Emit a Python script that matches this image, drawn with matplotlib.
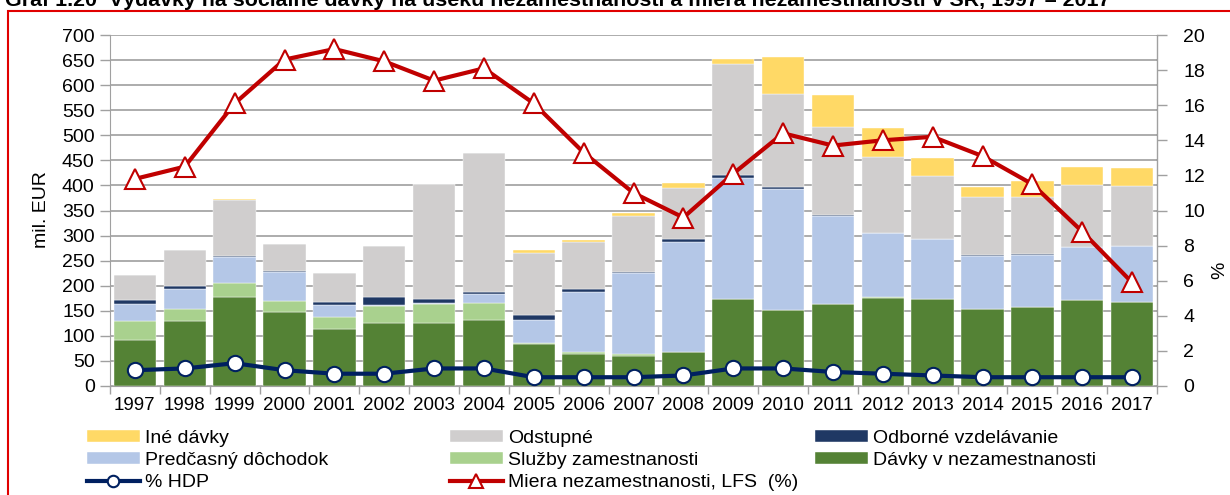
import numpy as np
import matplotlib
matplotlib.use('Agg')
import matplotlib.pyplot as plt
from matplotlib import font_manager
from matplotlib.patches import Rectangle

# údaje odčítané z grafu
years = [str(r) for r in range(1997, 2018)]
davky = [92, 130, 177, 147, 114, 125, 125, 132, 83, 63, 59, 67, 173, 151, 163, 176, 174, 154, 158, 171, 167]
sluzby = [37, 23, 28, 23, 23, 34, 38, 33, 2, 4, 4, 1, 1, 1, 1, 0.5, 0.5, 0.5, 0.5, 0.5, 0.5]
predcasny = [35, 41, 52, 57, 24, 3, 2, 18, 46, 121, 162, 219, 240, 241, 175, 128, 119, 105, 103, 106, 112]
odborne = [8, 5, 2, 1.5, 6, 16, 9, 4, 11, 5, 3, 6, 7, 4, 3, 0.5, 0.5, 2, 1, 0.5, 0.5]
odstupne = [49, 73, 112, 55, 59, 101, 229, 278, 123, 95, 112, 102, 221, 185, 175, 152, 125, 116, 114, 122, 118]
ine = [0, 0, 1.5, 0, 0, 1, 0, 0, 6, 4, 5, 10, 10, 75, 64, 57, 35, 20, 33, 36, 36]
hdp = [0.9, 1.0, 1.3, 0.9, 0.7, 0.7, 1.0, 1.0, 0.5, 0.5, 0.5, 0.6, 1.0, 1.0, 0.8, 0.7, 0.6, 0.5, 0.5, 0.5, 0.5]
miera = [11.8, 12.5, 16.1, 18.6, 19.2, 18.5, 17.4, 18.1, 16.1, 13.3, 11.0, 9.6, 12.1, 14.4, 13.7, 14.0, 14.2, 13.1, 11.5, 8.8, 5.9]

# písmo - úzke ak je k dispozícii
names = {f.name for f in font_manager.fontManager.ttflist}
fam = 'Liberation Sans Narrow' if 'Liberation Sans Narrow' in names else 'Liberation Sans'
plt.rcParams['font.family'] = [fam, 'DejaVu Sans']
fs = 14

fig = plt.figure(figsize=(12.3, 4.95), dpi=100)
ax = fig.add_axes([110 / 1230, 109 / 495, 1047 / 1230, 351 / 495])
ax2 = ax.twinx()

x = np.arange(len(years))
w = 0.85
series = [
    (davky, '#548235', 'Dávky v nezamestnanosti'),
    (sluzby, '#A9D18E', 'Služby zamestnanosti'),
    (predcasny, '#B4C7E7', 'Predčasný dôchodok'),
    (odborne, '#1F3864', 'Odborné vzdelávanie'),
    (odstupne, '#D0CECE', 'Odstupné'),
    (ine, '#FFD966', 'Iné dávky'),
]
bottom = np.zeros(len(years))
handles = {}
for vals, col, lab in series:
    b = ax.bar(x, vals, w, bottom=bottom, color=col, label=lab, zorder=2,
               edgecolor='white', linewidth=0.3)
    handles[lab] = b
    bottom += np.array(vals)

ax.set_ylim(0, 700)
ax.set_yticks(range(0, 701, 50))
ax.set_xlim(-0.5, len(years) - 0.5)
ax.set_xticks(x)
ax.set_xticklabels(years)
ax.set_xticks(np.arange(-0.5, len(years), 1), minor=True)
ax.tick_params(axis='x', which='major', length=0, labelsize=13.5, pad=8)
ax.tick_params(axis='x', which='minor', length=6, color='#A0A0A0', width=1)
ax.tick_params(axis='y', length=7, color='#A0A0A0', width=1, labelsize=fs, pad=4)
ax.yaxis.grid(True, color='#A6A6A6', linewidth=1.3, zorder=0)
ax.set_axisbelow(True)
ax.spines['top'].set_visible(False)
ax.spines['left'].set_color('#A0A0A0')
ax.spines['bottom'].set_color('#A0A0A0')

l1, = ax2.plot(x, hdp, color='#002060', linewidth=3, marker='o', markersize=11,
               markerfacecolor='white', markeredgecolor='#002060', markeredgewidth=1.5,
               label='% HDP', zorder=5)
l2, = ax2.plot(x, miera, color='#C00000', linewidth=3, marker='^', markersize=14,
               markerfacecolor='white', markeredgecolor='#C00000', markeredgewidth=1.5,
               label='Miera nezamestnanosti, LFS  (%)', zorder=5)
ax2.set_ylim(0, 20)
ax2.set_yticks(range(0, 21, 2))
ax2.tick_params(axis='y', length=7, color='#A0A0A0', width=1, labelsize=fs, pad=12)
for s in ['top', 'left', 'bottom']:
    ax2.spines[s].set_visible(False)
ax2.spines['right'].set_color('#A0A0A0')
ax.set_zorder(1)
ax2.set_zorder(2)
ax2.patch.set_visible(False)

fig.text(42 / 1230, 1 - 210 / 495, 'mil. EUR', rotation=90, ha='center', va='center', fontsize=fs)
fig.text(1220 / 1230, 1 - 270 / 495, '%', rotation=90, ha='center', va='center', fontsize=fs)

# nadpis (horná časť orezaná ako v predlohe)
fig.text(5 / 1230, 1 - 6 / 495,
         'Graf 1.20  Výdavky na sociálne dávky na úseku nezamestnanosti a miera nezamestnanosti v SR, 1997 – 2017',
         fontsize=15.4, fontweight='bold', ha='left', va='baseline')

# červený rámik
fig.patches.append(Rectangle((8 / 1230, -0.1), 1.2, 1.1 - 11 / 495, transform=fig.transFigure,
                             fill=False, edgecolor='#E00000', linewidth=1.5))

# legenda v troch stĺpcoch
leg_kw = dict(frameon=False, fontsize=fs, loc='upper left', handlelength=2.7, handleheight=0.6,
              handletextpad=0.3, labelspacing=0.26, borderpad=0, borderaxespad=0, markerscale=0.75)
cols = [
    ([handles['Iné dávky'], handles['Predčasný dôchodok'], l1], 87),
    ([handles['Odstupné'], handles['Služby zamestnanosti'], l2], 450),
    ([handles['Odborné vzdelávanie'], handles['Dávky v nezamestnanosti']], 815),
]
for hs, xp in cols:
    fig.legend(handles=hs, labels=[h.get_label() for h in hs],
               bbox_to_anchor=(xp / 1230, 1 - 430 / 495), **leg_kw)

fig.savefig('out.png', dpi=100)
